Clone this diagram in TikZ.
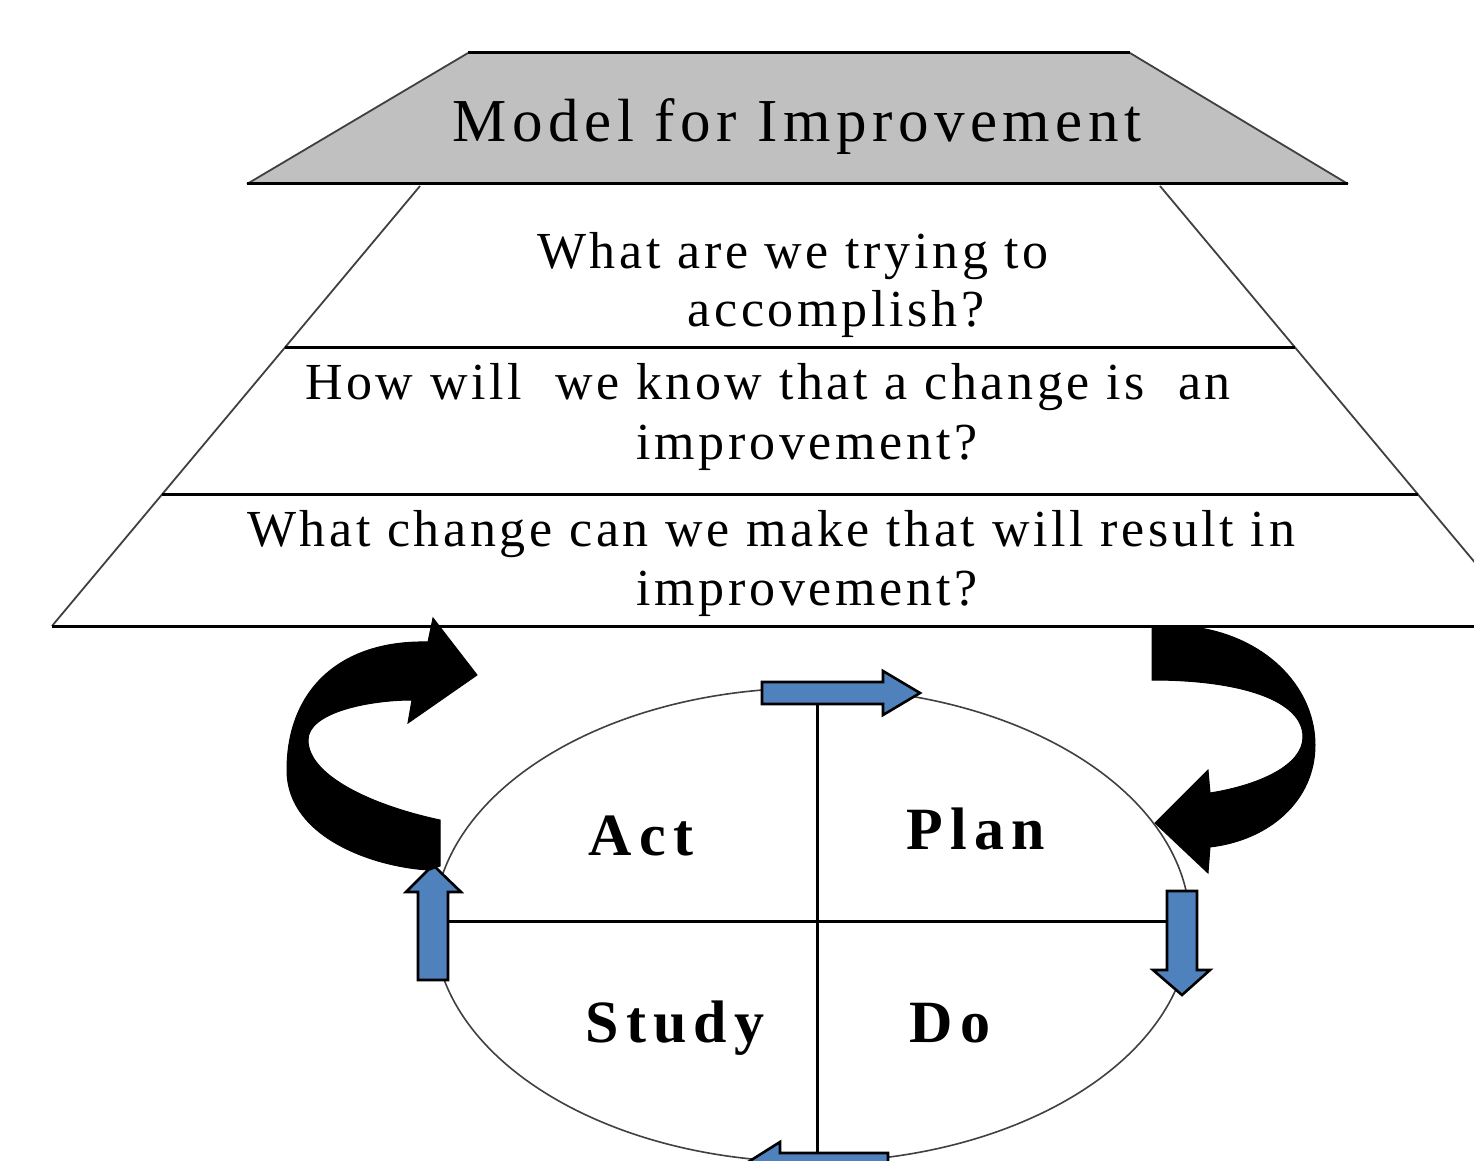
\documentclass[tikz,border=0pt]{standalone}
\usepackage{fontspec}
\setmainfont{Liberation Serif}
\newfontfamily\titlefont[LetterSpace=9]{Liberation Serif}
\newfontfamily\qfont[LetterSpace=7]{Liberation Serif}
\newfontfamily\cyclefont[LetterSpace=12]{Liberation Serif}
\definecolor{trapgray}{HTML}{C0C0C0}
\definecolor{pdsablue}{HTML}{4F81BD}
\definecolor{rimgray}{HTML}{404040}
\begin{document}
\begin{tikzpicture}[x=0.5pt,y=-0.5pt,
  sideline/.style={draw=rimgray,line width=0.9pt},
  rule/.style={draw=black,line width=1.5pt},
  qtext/.style={inner sep=0pt,anchor=base,font=\qfont\fontsize{26}{31}\selectfont},
  cyctext/.style={inner sep=0pt,anchor=base,font=\cyclefont\bfseries\fontsize{30}{36}\selectfont},
  bluearrow/.style={fill=pdsablue,draw=black,line width=1.3pt,line join=miter},
  blackarrow/.style={fill=black,draw=black,line width=0.5pt}]
\fill[white] (0,0) rectangle (1474,1161);
\clip (0,0) rectangle (1474,1161);
% title trapezoid
\coordinate (tTL) at (468,53);
\coordinate (tTR) at (1130,53);
\coordinate (tBR) at (1348,184);
\coordinate (tBL) at (247,184);
\fill[trapgray] (tTL) -- (tTR) -- (tBR) -- (tBL) -- cycle;
\draw[sideline] (tTL) -- (tBL);
\draw[sideline] (tTR) -- (tBR);
\draw[rule] (tTL) -- (tTR);
\draw[rule] (tBL) -- (tBR);
\node[inner sep=0pt,anchor=base,font=\titlefont\fontsize{30.5}{35}\selectfont] (title) at (797,142) {Model for Improvement};
% pyramid
\coordinate (pTL) at (420,186);
\coordinate (pTR) at (1160,186);
\coordinate (pBL) at (52,626);
\coordinate (pBR) at (1528,626);
\draw[sideline] (pTL) -- (pBL);
\draw[sideline] (pTR) -- (pBR);
\coordinate (r1L) at (285,347);
\coordinate (r1R) at (1295,347);
\coordinate (r2L) at (162,494);
\coordinate (r2R) at (1418,494);
\draw[rule] (r1L) -- (r1R);
\draw[rule] (r2L) -- (r2R);
\draw[rule] (pBL) -- (pBR);
\node[qtext] (q1a) at (793,268) {What are we trying to};
\node[qtext] (q1b) at (836,326) {accomplish?};
\node[qtext] (q2a) at (768,399) {How will\ \ we know that a change is\ \ an};
\node[qtext] (q2b) at (807,459) {improvement?};
\node[qtext] (q3a) at (771,546) {What change can we make that will result in};
\node[qtext] (q3b) at (807,605) {improvement?};
% cycle ellipse
\draw[draw=rimgray,line width=0.8pt] (812,925) ellipse [x radius=378, y radius=237];
\coordinate (hL) at (447,921);
\coordinate (hR) at (1168,921);
\coordinate (vT) at (817,704);
\coordinate (vB) at (817,1153);
\draw[rule] (hL) -- (hR);
\draw[rule] (vT) -- (vB);
\node[cyctext] (act) at (641,855) {Act};
\node[cyctext] (plan) at (976,849) {Plan};
\node[cyctext] (study) at (675,1042) {Study};
\node[cyctext] (do) at (950,1042) {Do};
% blue arrows
\draw[bluearrow] (762,682) -- (883,682) -- (883,671) -- (920,693) -- (883,715) -- (883,704) -- (762,704) -- cycle;
\draw[bluearrow] (418,980) -- (418,892) -- (406,892) -- (433,865) -- (461,892) -- (448,892) -- (448,980) -- cycle;
\draw[bluearrow] (1167,891) -- (1197,891) -- (1197,970) -- (1210,970) -- (1182,995) -- (1153,970) -- (1167,970) -- cycle;
\draw[bluearrow] (888,1153) -- (780,1153) -- (780,1142) -- (745,1164) -- (780,1186) -- (780,1175) -- (888,1175) -- cycle;
% black curved arrows
\draw[blackarrow] (440,820) .. controls (370,805) and (308,775) .. (308,740)
  .. controls (308,712) and (370,700) .. (412,700) -- (408,723) -- (477,675) -- (433,618) -- (428,642)
  .. controls (340,640) and (287,690) .. (287,770)
  .. controls (287,840) and (380,868) .. (430,870) -- (440,866) -- cycle;
\draw[blackarrow] (1152,628) -- (1200,628) .. controls (1270,640) and (1315,690) .. (1315,745)
  .. controls (1315,800) and (1270,840) .. (1210,847) -- (1208,873) -- (1155,823) -- (1208,770) -- (1210,793)
  .. controls (1260,785) and (1303,765) .. (1303,737)
  .. controls (1303,700) and (1240,680) .. (1152,680) -- cycle;
\end{tikzpicture}
\end{document}
